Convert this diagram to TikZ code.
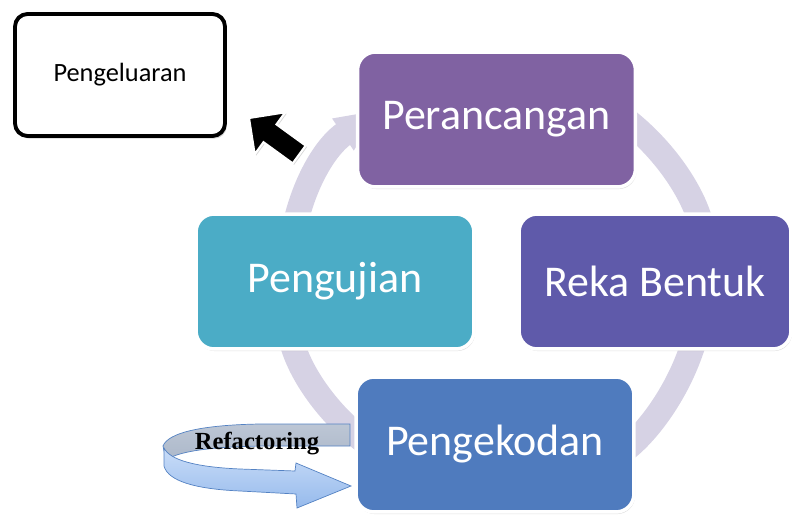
\documentclass[tikz,border=0pt]{standalone}
\usepackage{fontspec}
\setmainfont{Carlito}
\newfontfamily\refont{Liberation Serif}
\usepackage{xcolor}
\usetikzlibrary{arrows.meta,shadows}
\definecolor{warnaRancang}{RGB}{128,98,162}
\definecolor{warnaUji}{RGB}{75,172,198}
\definecolor{warnaBentuk}{RGB}{95,90,170}
\definecolor{warnaKod}{RGB}{79,123,190}
\definecolor{warnaCincin}{RGB}{214,210,228}
\definecolor{pitaDepan}{RGB}{178,206,245}
\definecolor{pitaDepanGelap}{RGB}{150,186,236}
\definecolor{pitaBelakang}{RGB}{172,184,202}
\definecolor{pitaGaris}{RGB}{84,130,195}

\begin{document}
\begin{tikzpicture}[x=0.02cm, y=-0.02cm,
    fasa/.style={rounded corners=0.36cm, draw=white, line width=2pt,
        minimum width=5.56cm, minimum height=2.7cm, text=white,
        font=\fontsize{25}{30}\selectfont,
        drop shadow={opacity=0.25, shadow xshift=0.6pt, shadow yshift=-1.2pt}},
    gelang/.style={warnaCincin, line width=0.5cm,
        -{Triangle[length=0.9cm,width=0.7cm]}}]
        \useasboundingbox (0,0) rectangle (792,517);
        %CINCIN
        \coordinate (pusat) at (496,281);
        \draw[gelang] (pusat) ++(-190:207) arc[start angle=-190, end angle=-124, radius=207];
        \draw[gelang] (pusat) ++(-62:207) arc[start angle=-62, end angle=0, radius=207];
        \draw[gelang] (pusat) ++(12:207) arc[start angle=12, end angle=68, radius=207];
        \draw[gelang] (pusat) ++(112:207) arc[start angle=112, end angle=180, radius=207];
        %FASA
        \node[fasa, fill=warnaRancang] (rancang) at (496.5,119.5) {Perancangan};
        \node[fasa, fill=warnaUji] (uji) at (335,281.5) {Pengujian};
        \node[fasa, fill=warnaBentuk, minimum width=5.44cm] (bentuk) at (655,281.5) {Reka Bentuk};
        \node[fasa, fill=warnaKod] (kod) at (495,444.5) {Pengekodan};
        %PENGELUARAN
        \node[draw, line width=2.2pt, rounded corners=0.25cm, fill=white,
            minimum width=4.2cm, minimum height=2.44cm,
            font=\fontsize{15}{18}\selectfont,
            drop shadow={opacity=0.35, shadow xshift=1pt, shadow yshift=-1.5pt}]
            (keluar) at (120,75) {Pengeluaran};
        \filldraw[fill=black, draw=white, line width=1.2pt, line join=miter,
            drop shadow={opacity=0.3, shadow xshift=0.8pt, shadow yshift=-0.8pt}]
            (249,118) -- (285.3,112.3) -- (276.5,124.4) -- (305.7,145.6)
            -- (292.7,163.4) -- (263.5,142.2) -- (254.7,154.3) -- cycle;
        %REFACTORING
        \draw[pitaGaris, thin, top color=pitaBelakang!80!white, bottom color=pitaBelakang]
            (163,446) .. controls (168,433) and (200,425) .. (260,424) -- (350,424)
            -- (350,446) -- (262,446) .. controls (205,447) and (178,452) .. (166,460) -- cycle;
        \draw[pitaGaris, thin, top color=pitaDepan!70!white, bottom color=pitaDepanGelap]
            (164,448) .. controls (170,460) and (195,467) .. (240,469) -- (295,471)
            -- (296,463) -- (351,486) -- (297,508) -- (296,494) -- (240,491)
            .. controls (195,489) and (168,481) .. (164,466) -- cycle;
        \node[font=\refont\bfseries\fontsize{14}{16}\selectfont] (refactor) at (257,444) {Refactoring};
\end{tikzpicture}
\end{document}
